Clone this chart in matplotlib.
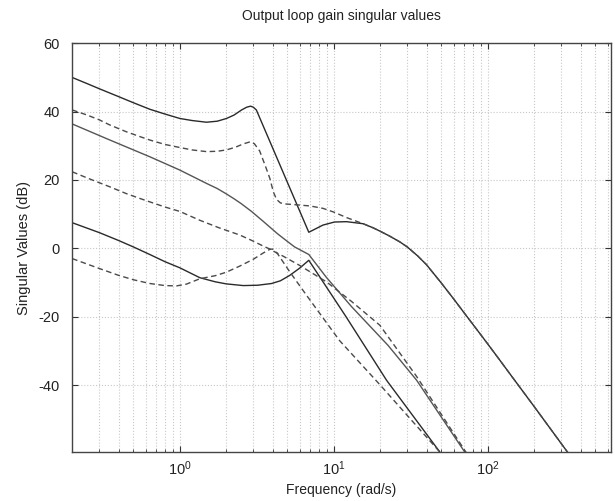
import matplotlib
matplotlib.use("Agg")
import matplotlib.pyplot as plt
from matplotlib.ticker import LogLocator, NullFormatter, FixedLocator

plt.rcParams['font.family'] = ['Liberation Sans', 'DejaVu Sans']
plt.rcParams['axes.unicode_minus'] = False

# ---- data (frequency in rad/s, singular values in dB) ----
# system 1 (solid)
s1_top_f = [0.2, 0.25, 0.3, 0.4, 0.5, 0.638, 0.8, 1.0, 1.2, 1.49, 1.75, 2.01, 2.25, 2.52, 2.72, 2.88, 3.0, 3.14,
            6.88, 8.5, 10.1, 12.1, 15.5, 18, 20, 23, 26.8, 30, 35, 40, 50, 60, 70, 85, 100, 120, 146, 200, 324, 400]
s1_top_db = [50.0, 48.2, 46.7, 44.4, 42.6, 40.7, 39.3, 38.0, 37.4, 36.9, 37.2, 38.0, 39.0, 40.5, 41.3, 41.6, 41.3, 40.5,
             4.7, 6.8, 7.7, 7.8, 7.2, 6.0, 5.0, 3.6, 1.9, 0.4, -2.2, -4.8, -10.2, -14.8, -18.8, -23.8, -28.0,
             -32.8, -38.0, -46.3, -59.2, -64.7]

s1_mid_f = [0.2, 0.351, 0.638, 1.0, 1.49, 1.75, 2.01, 2.25, 2.5, 2.92, 3.5, 4.3, 5.0, 5.57, 6.88, 8.95, 13, 22.5,
            34.5, 70.8, 80]
s1_mid_db = [36.4, 31.7, 26.8, 22.9, 19.0, 17.5, 15.9, 14.5, 13.1, 10.8, 7.8, 4.3, 2.0, 0.4, -1.8, -8.5, -17.0,
             -28.4, -38.6, -59.6, -63]

s1_low_f = [0.2, 0.3, 0.4, 0.5, 0.638, 0.8, 1.0, 1.35, 1.7, 2.0, 2.58, 3.2, 3.94, 4.5, 5.18, 6.0, 6.88,
            12.0, 22.0, 48.8, 55]
s1_low_db = [7.5, 4.6, 2.3, 0.4, -1.8, -3.9, -5.7, -8.6, -9.8, -10.4, -10.9, -10.8, -10.3, -9.5, -7.9, -5.8, -3.5,
             -20.0, -38.6, -59.6, -63]

# system 2 (dashed)
s2_top_f = [0.2, 0.25, 0.3, 0.351, 0.45, 0.55, 0.638, 0.8, 1.0, 1.2, 1.49, 1.75, 2.01, 2.3, 2.6, 2.88, 3.05, 3.3,
            3.6, 3.84, 4.05, 4.25, 4.5, 4.8, 5.5, 7.0, 8.5, 10, 12.1, 15.5, 18, 20, 23, 26.8, 30, 35, 40, 50, 60,
            70, 85, 100, 120, 146, 200, 324, 400]
s2_top_db = [40.5, 39.0, 37.6, 36.1, 34.1, 32.7, 31.7, 30.4, 29.5, 28.8, 28.3, 28.4, 28.8, 29.6, 30.6, 31.2, 30.6,
             28.5, 24.0, 20.5, 16.5, 14.3, 13.3, 13.0, 12.8, 12.4, 11.7, 10.6, 9.0, 7.2, 6.0, 5.0, 3.6, 1.9, 0.4,
             -2.2, -4.8, -10.2, -14.8, -18.8, -23.8, -28.0, -32.8, -38.0, -46.3, -59.2, -64.7]

s2_mid_f = [0.2, 0.25, 0.3, 0.351, 0.45, 0.55, 0.638, 0.8, 1.0, 1.35, 1.8, 2.45, 3.0, 3.5, 3.84, 4.2, 4.69, 6.0,
            8.95, 13, 19.9, 34.5, 72.0, 80]
s2_mid_db = [22.4, 20.6, 19.2, 18.0, 16.0, 14.6, 13.6, 12.1, 10.8, 8.2, 6.0, 3.9, 2.1, 0.6, -0.2, -1.2, -2.3, -5.0,
             -9.8, -15.5, -22.5, -37.5, -59.6, -62]

s2_low_f = [0.2, 0.25, 0.3, 0.4, 0.5, 0.64, 0.8, 0.95, 1.1, 1.35, 1.7, 2.0, 2.45, 3.0, 3.5, 3.84, 4.0, 4.3, 5.18,
            6.64, 10.9, 20.0, 48.8, 55]
s2_low_db = [-3.0, -4.6, -5.9, -7.9, -9.2, -10.3, -10.9, -11.0, -10.5, -8.9, -8.0, -7.0, -5.2, -3.2, -1.3, -0.3,
             -0.2, -1.5, -6.9, -13.7, -27.0, -40.0, -59.6, -62]

title = "Output loop gain singular values"
xlabel = "Frequency (rad/s)"
ylabel = "Singular Values (dB)"
yticks = [-40, -20, 0, 20, 40, 60]

fig = plt.figure(figsize=(6.15, 5.01), dpi=100)
ax = fig.add_axes([0.1171, 0.0978, 0.8764, 0.8158])

solid_dark = '#2a2a2a'
solid_gray = '#555555'
dash_col = '#4a4a4a'
lw = 1.0

ax.semilogx(s1_top_f, s1_top_db, '-', color=solid_dark, lw=lw)
ax.semilogx(s1_mid_f, s1_mid_db, '-', color=solid_gray, lw=lw)
ax.semilogx(s1_low_f, s1_low_db, '-', color=solid_dark, lw=lw)
for f, d in [(s2_top_f, s2_top_db), (s2_mid_f, s2_mid_db), (s2_low_f, s2_low_db)]:
    ax.semilogx(f, d, '--', color=dash_col, lw=lw, dashes=(4, 2.5))

ax.set_xlim(10 ** -0.7, 10 ** 2.8)
ax.set_ylim(-59.6, 60)
ax.yaxis.set_major_locator(FixedLocator(yticks))
ax.xaxis.set_major_locator(LogLocator(base=10, numticks=10))
ax.xaxis.set_minor_locator(LogLocator(base=10, subs=range(2, 10), numticks=10))
ax.xaxis.set_minor_formatter(NullFormatter())

ax.grid(True, which='major', axis='both', color='#c8c8c8', linestyle=':', linewidth=0.8)
ax.grid(True, which='minor', axis='x', color='#c8c8c8', linestyle=':', linewidth=0.8)

ax.tick_params(which='both', direction='in', top=True, right=True, colors='#333333', labelcolor='#222222', labelsize=10.5)
ax.tick_params(which='major', length=4, width=0.8)
ax.tick_params(axis='y', which='major', pad=9)
ax.tick_params(axis='x', which='major', pad=5)
ax.tick_params(which='minor', length=2.5, width=0.6)
for sp in ax.spines.values():
    sp.set_color('#444444')
    sp.set_linewidth(1.0)

ax.set_title(title, fontsize=10, color='#222222', pad=17)
ax.set_xlabel(xlabel, fontsize=10, color='#222222', labelpad=4)
ax.set_ylabel(ylabel, fontsize=10.5, color='#222222', labelpad=5)

fig.savefig("out.png", dpi=100)
